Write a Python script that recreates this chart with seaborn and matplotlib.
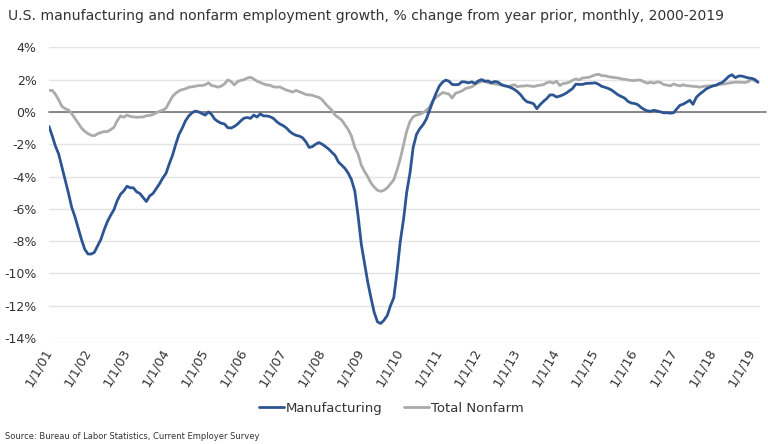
import matplotlib
matplotlib.use("Agg")
import matplotlib.pyplot as plt
import matplotlib.transforms as mtransforms
from matplotlib.lines import Line2D
import numpy as np
import pandas as pd
import seaborn as sns

# ---------------- data (monthly, Jan 2001 - Mar 2019) ----------------
start_month = "2001-01-01"
manufacturing = [
    -0.9, -1.5, -2.1, -2.6, -3.4, -4.2, -5.0, -5.9, -6.5, -7.2, -7.9, -8.5,          # 2001
    -8.8, -8.8, -8.7, -8.3, -7.9, -7.3, -6.8, -6.4, -6.05, -5.5, -5.1, -4.9,          # 2002
    -4.6, -4.7, -4.7, -4.95, -5.05, -5.3, -5.55, -5.2, -5.05, -4.75, -4.45, -4.1,     # 2003
    -3.8, -3.2, -2.7, -2.0, -1.4, -1.0, -0.55, -0.25, -0.05, 0.05, 0.0, -0.1,         # 2004
    -0.2, 0.0, -0.15, -0.45, -0.6, -0.7, -0.75, -0.98, -1.0, -0.9, -0.75, -0.55,      # 2005
    -0.38, -0.35, -0.4, -0.2, -0.32, -0.12, -0.25, -0.25, -0.3, -0.4, -0.6, -0.75,    # 2006
    -0.85, -1.0, -1.2, -1.35, -1.45, -1.5, -1.6, -1.85, -2.2, -2.15, -2.0, -1.9,      # 2007
    -2.0, -2.15, -2.3, -2.5, -2.7, -3.1, -3.3, -3.5, -3.8, -4.2, -4.9, -6.4,          # 2008
    -8.2, -9.4, -10.5, -11.5, -12.4, -13.0, -13.1, -12.9, -12.6, -12.0, -11.5, -9.9,  # 2009
    -8.0, -6.6, -5.0, -3.8, -2.2, -1.4, -1.05, -0.8, -0.45, 0.1, 0.65, 1.15,          # 2010
    1.6, 1.85, 1.97, 1.9, 1.7, 1.68, 1.7, 1.87, 1.85, 1.8, 1.86, 1.76,                # 2011
    1.92, 2.0, 1.88, 1.92, 1.8, 1.88, 1.85, 1.7, 1.62, 1.58, 1.5, 1.4,                # 2012
    1.25, 1.05, 0.8, 0.62, 0.58, 0.5, 0.2, 0.45, 0.65, 0.82, 1.05, 1.05,              # 2013
    0.92, 0.98, 1.05, 1.16, 1.3, 1.45, 1.72, 1.7, 1.7, 1.76, 1.77, 1.78,              # 2014
    1.8, 1.7, 1.58, 1.52, 1.45, 1.35, 1.2, 1.05, 0.95, 0.85, 0.65, 0.55,              # 2015
    0.52, 0.45, 0.28, 0.15, 0.06, 0.04, 0.1, 0.05, 0.0, -0.06, -0.05, -0.08,          # 2016
    -0.05, 0.2, 0.41, 0.48, 0.6, 0.72, 0.47, 0.9, 1.1, 1.25, 1.42, 1.52,              # 2017
    1.6, 1.65, 1.75, 1.82, 2.0, 2.2, 2.3, 2.12, 2.22, 2.22, 2.16, 2.1,                # 2018
    2.08, 2.0, 1.84,                                                                  # 2019
]
total_nonfarm = [
    1.33, 1.33, 1.1, 0.75, 0.35, 0.2, 0.12, -0.1, -0.4, -0.7, -1.0, -1.2,             # 2001
    -1.35, -1.45, -1.48, -1.35, -1.28, -1.22, -1.22, -1.1, -0.95, -0.55, -0.25, -0.33, # 2002
    -0.2, -0.28, -0.31, -0.33, -0.32, -0.31, -0.24, -0.22, -0.16, -0.06, 0.04, 0.1,   # 2003
    0.24, 0.6, 0.95, 1.16, 1.3, 1.38, 1.43, 1.53, 1.55, 1.59, 1.63, 1.63,             # 2004
    1.68, 1.8, 1.63, 1.6, 1.53, 1.6, 1.73, 1.98, 1.88, 1.67, 1.88, 1.95,              # 2005
    2.0, 2.1, 2.14, 2.04, 1.9, 1.82, 1.73, 1.67, 1.65, 1.55, 1.53, 1.55,              # 2006
    1.44, 1.35, 1.29, 1.23, 1.33, 1.25, 1.17, 1.08, 1.05, 1.03, 0.95, 0.9,            # 2007
    0.75, 0.5, 0.3, 0.1, -0.2, -0.35, -0.5, -0.8, -1.1, -1.5, -2.2, -2.6,             # 2008
    -3.3, -3.7, -4.0, -4.4, -4.65, -4.85, -4.92, -4.85, -4.7, -4.45, -4.2, -3.6,      # 2009
    -2.9, -2.0, -1.2, -0.6, -0.3, -0.2, -0.15, -0.05, 0.1, 0.3, 0.7, 0.9,             # 2010
    1.05, 1.2, 1.15, 1.1, 0.86, 1.15, 1.22, 1.3, 1.44, 1.5, 1.55, 1.7,                # 2011
    1.8, 1.89, 1.95, 1.8, 1.78, 1.74, 1.7, 1.66, 1.62, 1.58, 1.62, 1.68,              # 2012
    1.56, 1.6, 1.6, 1.63, 1.6, 1.57, 1.62, 1.65, 1.69, 1.8, 1.86, 1.78,               # 2013
    1.9, 1.63, 1.75, 1.78, 1.84, 1.96, 2.04, 1.98, 2.1, 2.12, 2.14, 2.22,             # 2014
    2.3, 2.33, 2.24, 2.24, 2.18, 2.15, 2.12, 2.1, 2.04, 2.02, 1.98, 1.95,             # 2015
    1.94, 1.98, 1.96, 1.85, 1.78, 1.84, 1.78, 1.86, 1.82, 1.69, 1.66, 1.61,           # 2016
    1.73, 1.65, 1.61, 1.68, 1.62, 1.61, 1.58, 1.57, 1.53, 1.57, 1.6, 1.61,            # 2017
    1.63, 1.65, 1.69, 1.72, 1.74, 1.78, 1.82, 1.84, 1.84, 1.83, 1.82, 1.88,           # 2018
    2.02, 1.92, 1.84,                                                                 # 2019
]
series_names = ["Manufacturing", "Total Nonfarm"]
tick_years = list(range(2001, 2020))
tick_labels = [f"1/1/{y % 100:02d}" for y in tick_years]
y_ticks = list(range(-14, 5, 2))
y_tick_labels = [f"{v}%" for v in y_ticks]
title = "U.S. manufacturing and nonfarm employment growth, % change from year prior, monthly, 2000-2019"
source = "Source: Bureau of Labor Statistics, Current Employer Survey"

# ---------------- build long-form table ----------------
dates = pd.date_range(start_month, periods=len(manufacturing), freq="MS")
df = pd.concat([
    pd.DataFrame({"date": dates, "value": manufacturing, "series": series_names[0]}),
    pd.DataFrame({"date": dates, "value": total_nonfarm, "series": series_names[1]}),
])

# ---------------- plot ----------------
sns.set_theme(style="white")
plt.rcParams["font.family"] = ["DejaVu Sans"]

fig = plt.figure(figsize=(7.68, 4.44), dpi=100)
ax = fig.add_axes([49 / 768, 1 - 338 / 444, (760 - 49) / 768, (338 - 47.3) / 444])

palette = {"Manufacturing": "#2D5592", "Total Nonfarm": "#ABABAB"}
sns.lineplot(data=df, x="date", y="value", hue="series", hue_order=series_names[::-1],
             palette=palette, linewidth=2.0, ax=ax, legend=False, zorder=3)

ax.set_ylim(-14, 4)
ax.set_yticks(y_ticks)
ax.set_yticklabels(y_tick_labels, fontsize=9, color="#333333")
ax.set_xlim(pd.Timestamp("2001-01-01"), pd.Timestamp("2019-03-20"))
tick_dates = [pd.Timestamp(f"{y}-01-01") for y in tick_years]
ax.set_xticks(tick_dates)
ax.set_xticklabels(tick_labels, fontsize=9.3, color="#333333", rotation=60,
                   ha="right", va="center", rotation_mode="anchor")
offset = mtransforms.ScaledTranslation(4 / 72, -4 / 72, fig.dpi_scale_trans)
for lab in ax.get_xticklabels():
    lab.set_transform(lab.get_transform() + offset)

ax.grid(axis="y", color="#E4E4E4", linewidth=1.0)
ax.grid(axis="x", visible=False)
ax.axhline(0, color="#7F7F7F", linewidth=1.3, zorder=2, xmax=1.008, clip_on=False)
for s in ax.spines.values():
    s.set_visible(False)
ax.tick_params(axis="both", length=0)
ax.tick_params(axis="y", pad=9)
ax.tick_params(axis="x", pad=8)
ax.set_xlabel("")
ax.set_ylabel("")

# legend
handles = [Line2D([], [], color=palette[n], linewidth=2.0) for n in series_names]
fig.legend(handles, series_names, loc="center", bbox_to_anchor=(391 / 768, 1 - 408 / 444),
           ncol=2, frameon=False, fontsize=9.5, handlelength=1.9, handletextpad=0.15,
           columnspacing=1.6, labelcolor="#333333")

fig.text(8 / 768, 1 - 16 / 444, title, fontsize=10.1, color="#333333", ha="left", va="center")
fig.text(5 / 768, 1 - 436 / 444, source, fontsize=6, color="#333333", ha="left", va="center")

fig.savefig("out.png", dpi=100)
